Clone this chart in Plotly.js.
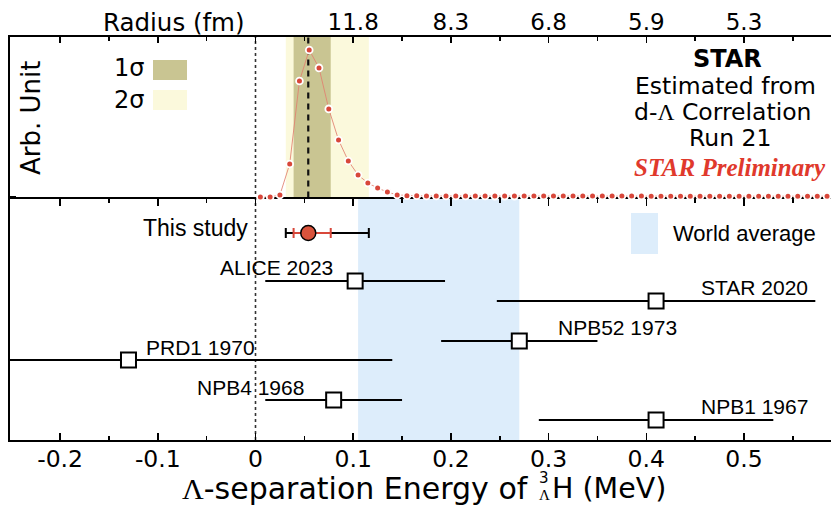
<!DOCTYPE html>
<html>
<head>
<meta charset="utf-8">
<script src="https://cdn.plot.ly/plotly-3.0.1.min.js"></script>
<style>
  html, body { margin: 0; padding: 0; background: #fff; }
  #chart { width: 831px; height: 506px; }
</style>
</head>
<body>
<div id="chart"></div>
<script>
// ---------------------------------------------------------------------------
// Λ-separation energy of the hypertriton: d-Λ correlation estimate (top)
// and comparison with earlier measurements (bottom). Energies in MeV.
// ---------------------------------------------------------------------------

// Top panel: likelihood profile vs. B_Λ (arbitrary units, peak = 1)
const profileE = [0.005, 0.015, 0.025, 0.035, 0.045, 0.055, 0.065, 0.075, 0.085, 0.095,
                  0.105, 0.115, 0.125, 0.135, 0.145, 0.155, 0.165, 0.175, 0.185, 0.195,
                  0.205, 0.215, 0.225, 0.235, 0.245, 0.255, 0.265, 0.275, 0.285, 0.295,
                  0.305, 0.315, 0.325, 0.335, 0.345, 0.355, 0.365, 0.375, 0.385, 0.395,
                  0.405, 0.415, 0.425, 0.435, 0.445, 0.455, 0.465, 0.475, 0.485, 0.495,
                  0.505, 0.515, 0.525, 0.535, 0.545, 0.555, 0.565, 0.575, 0.585];
const profileP = [0.000, 0.000, 0.014, 0.224, 0.789, 1.000, 0.878, 0.599, 0.388, 0.245,
                  0.150, 0.095, 0.061, 0.034, 0.014, 0.009, 0.008, 0.007, 0.007, 0.007,
                  0.007, 0.007, 0.007, 0.007, 0.006, 0.006, 0.006, 0.006, 0.006, 0.006,
                  0.006, 0.006, 0.006, 0.006, 0.006, 0.006, 0.006, 0.006, 0.006, 0.006,
                  0.005, 0.005, 0.005, 0.005, 0.005, 0.005, 0.005, 0.005, 0.005, 0.005,
                  0.005, 0.005, 0.005, 0.005, 0.005, 0.005, 0.005, 0.005, 0.005];

// Secondary (top) axis: source radius corresponding to B_Λ
const radiusTickE    = [0.1, 0.2, 0.3, 0.4, 0.5];
const radiusTickText = ["11.8", "8.3", "6.8", "5.9", "5.3"];

// This measurement: central value, statistical and total uncertainty
const studyValue     = 0.054;
const studyStatLow   = 0.015;
const studyStatHigh  = 0.023;
const studyTotalLow  = 0.023;
const studyTotalHigh = 0.062;

// Earlier measurements
const priorNames  = ["ALICE 2023", "STAR 2020", "NPB52 1973", "PRD1 1970", "NPB4 1968", "NPB1 1967"];
const priorValues = [0.102, 0.41, 0.27, -0.13, 0.08, 0.41];
const priorErrors = [0.092, 0.163, 0.08, 0.27, 0.07, 0.12];

// World average interval
const worldAvgLow  = 0.105;
const worldAvgHigh = 0.270;

// Energy axis tick labels
const energyTicks      = [-0.2, -0.1, 0, 0.1, 0.2, 0.3, 0.4, 0.5];
const energyTickText   = ["-0.2", "-0.1", "0", "0.1", "0.2", "0.3", "0.4", "0.5"];
const energyMinorTicks = [-0.15, -0.05, 0.05, 0.15, 0.25, 0.35, 0.45, 0.55];

// ---------------------------------------------------------------------------
// Presentation
// ---------------------------------------------------------------------------
const W = 831, H = 506;
const M = { l: 10, r: 0, t: 37, b: 66 };
const plotW = W - M.l - M.r, plotH = H - M.t - M.b;
const splitPx = 199;                       // boundary between the panels
const splitFrac = (H - M.b - splitPx) / plotH;

// pixel -> paper coordinates for free text and decorations
const px = v => (v - M.l) / plotW;
const py = v => (H - M.b - v) / plotH;

// vertical rows of the comparison panel (bottom = 0)
const studyRow = 10.35;
const priorRows = [7.95, 6.95, 4.95, 4.0, 2.0, 1.0];

const RED = "#d8473a";
const SANS = "Liberation Sans, Arial, sans-serif";
const WIDE = "DejaVu Sans, sans-serif";
const SERIF = "Liberation Serif, Times New Roman, serif";

const traces = [
  // profile
  {
    x: profileE, y: profileP, xaxis: "x2", yaxis: "y2",
    type: "scatter", mode: "lines+markers", hoverinfo: "skip",
    line: { color: "rgba(226,128,112,0.85)", width: 1 },
    marker: { color: RED, size: 6.8, line: { color: "#fff", width: 1.8 } },
    cliponaxis: false
  },
  // earlier measurements: error bars, then the markers over them
  {
    x: priorValues, y: priorRows, type: "scatter", mode: "markers", hoverinfo: "skip",
    marker: { opacity: 0, size: 2 },
    error_x: { type: "data", array: priorErrors, visible: true, color: "#000", thickness: 2, width: 0 }
  },
  {
    x: priorValues, y: priorRows, type: "scatter", mode: "markers", hoverinfo: "skip",
    marker: { symbol: "square", size: 15, color: "#fff", line: { color: "#000", width: 2 } }
  },
  // this study: total, statistical, central value
  {
    x: [studyValue], y: [studyRow], type: "scatter", mode: "markers", hoverinfo: "skip",
    marker: { opacity: 0, size: 2 },
    error_x: { type: "data", symmetric: false, array: [studyTotalHigh], arrayminus: [studyTotalLow],
               visible: true, color: "#000", thickness: 2, width: 5 }
  },
  {
    x: [studyValue], y: [studyRow], type: "scatter", mode: "markers", hoverinfo: "skip",
    marker: { opacity: 0, size: 2 },
    error_x: { type: "data", symmetric: false, array: [studyStatHigh], arrayminus: [studyStatLow],
               visible: true, color: RED, thickness: 2, width: 5 }
  },
  {
    x: [studyValue], y: [studyRow], type: "scatter", mode: "markers", hoverinfo: "skip",
    marker: { symbol: "circle", size: 15, color: "#d9533c", line: { color: "#000", width: 1.5 } }
  }
];

const bandPad = { line: { width: 0 }, layer: "below", type: "rect" };
const shapes = [
  // world average band
  Object.assign({ xref: "x", yref: "y domain", x0: worldAvgLow, x1: worldAvgHigh, y0: 0, y1: 1,
                  fillcolor: "#ddedfb" }, bandPad),
  // 2σ and 1σ bands
  Object.assign({ xref: "x2", yref: "y2 domain", x0: studyValue - studyTotalLow, x1: studyValue + studyTotalHigh,
                  y0: 0, y1: 1, fillcolor: "#fbf9dc" }, bandPad),
  Object.assign({ xref: "x2", yref: "y2 domain", x0: studyValue - studyStatLow, x1: studyValue + studyStatHigh,
                  y0: 0, y1: 1, fillcolor: "#c9c592" }, bandPad),
  // central value
  { type: "line", xref: "x2", yref: "y2 domain", x0: studyValue, x1: studyValue, y0: 0.01, y1: 1,
    line: { color: "#111", width: 2.2, dash: "6px,5px" }, layer: "below" },
  // zero line through both panels
  { type: "line", xref: "x", yref: "paper", x0: 0, x1: 0, y0: 0, y1: 1,
    line: { color: "#333", width: 1.6, dash: "3px,3px" }, layer: "below" },
  // legend swatches
  Object.assign({ xref: "paper", yref: "paper", x0: px(153), x1: px(187), y0: py(80), y1: py(60),
                  fillcolor: "#c9c592" }, bandPad),
  Object.assign({ xref: "paper", yref: "paper", x0: px(153), x1: px(187), y0: py(110), y1: py(90),
                  fillcolor: "#fbf9dc" }, bandPad),
  Object.assign({ xref: "paper", yref: "paper", x0: px(631), x1: px(658), y0: py(254), y1: py(213),
                  fillcolor: "#ddedfb" }, bandPad)
];

function note(text, x, y, opts) {
  return Object.assign({
    text: text, xref: "paper", yref: "paper", x: px(x), y: py(y),
    xanchor: "center", yanchor: "middle", showarrow: false,
    font: { family: SANS, size: 21, color: "#000" }
  }, opts || {});
}
const lam = '<span style="font-family:Liberation Serif">Λ</span>';

const annotations = [
  // top panel text
  note("Radius (fm)", 174, 23, { font: { family: WIDE, size: 24.5, color: "#000" } }),
  note("Arb. Unit", 31, 118, { textangle: -90, font: { family: WIDE, size: 26, color: "#000" } }),
  note("1σ", 146, 68, { xanchor: "right", font: { family: WIDE, size: 24, color: "#000" } }),
  note("2σ", 146, 100, { xanchor: "right", font: { family: WIDE, size: 24, color: "#000" } }),
  note("<b>STAR</b>", 727, 59, { font: { family: WIDE, size: 24, color: "#000" } }),
  note("Estimated from", 725, 86, { font: { family: WIDE, size: 23.5, color: "#000" } }),
  note("d-" + lam + " Correlation", 723, 112, { font: { family: WIDE, size: 23.5, color: "#000" } }),
  note("Run 21", 730, 138, { font: { family: WIDE, size: 23.5, color: "#000" } }),
  note("STAR Preliminary", 730, 168, { font: { family: SERIF, size: 25, color: "#e0392c",
                                                weight: "bold", style: "italic" } }),
  // bottom panel labels
  note("This study", 250, 228, { xanchor: "right", font: { family: SANS, size: 23, color: "#000" } }),
  note(priorNames[0], 276, 267),
  note(priorNames[1], 810, 287, { xanchor: "right" }),
  note(priorNames[2], 556, 327, { xanchor: "left" }),
  note(priorNames[3], 144, 347, { xanchor: "left" }),
  note(priorNames[4], 195, 387, { xanchor: "left" }),
  note(priorNames[5], 810, 406, { xanchor: "right" }),
  note("World average", 671, 233, { xanchor: "left", font: { family: SANS, size: 22, color: "#000" } }),
  // energy axis title (with stacked isotope indices)
  note(lam + "-separation Energy of", 531, 488, { xanchor: "right", font: { family: WIDE, size: 30, color: "#000" } }),
  note("3", 544, 478, { font: { family: WIDE, size: 15, color: "#000" } }),
  note(lam, 544, 495, { font: { family: WIDE, size: 15, color: "#000" } }),
  note("H (MeV)", 550, 488, { xanchor: "left", font: { family: WIDE, size: 28.5, color: "#000" } })
];

const xRange = [(M.l - 255.5) / 977, (W - M.r - 255.5) / 977];

const layout = {
  width: W, height: H, margin: M,
  paper_bgcolor: "#fff", plot_bgcolor: "rgba(0,0,0,0)",
  showlegend: false,
  xaxis: {
    domain: [0, 1], anchor: "y", range: xRange, fixedrange: true,
    showgrid: false, zeroline: false,
    showline: true, linecolor: "#000", linewidth: 2, mirror: "ticks",
    tickmode: "array", tickvals: energyTicks, ticktext: energyTickText,
    ticks: "inside", ticklen: 7, tickwidth: 1.5, tickcolor: "#000",
    minor: { tickmode: "array", tickvals: energyMinorTicks, ticks: "inside", ticklen: 4,
             tickwidth: 1.5, tickcolor: "#000", showgrid: false },
    tickfont: { family: WIDE, size: 23.5, color: "#000" },
    ticklabelstandoff: -3
  },
  yaxis: {
    domain: [0, splitFrac], anchor: "x", range: [0, 12.05], fixedrange: true,
    showgrid: false, zeroline: false, showticklabels: false, ticks: "",
    showline: true, linecolor: "#000", linewidth: 2
  },
  xaxis2: {
    domain: [0, 1], anchor: "y2", side: "top", matches: "x", range: xRange, fixedrange: true,
    showgrid: false, zeroline: false,
    showline: true, linecolor: "#000", linewidth: 2,
    tickmode: "array", tickvals: energyTicks,
    ticktext: energyTicks.map(v => {
      const i = radiusTickE.indexOf(v);
      return i >= 0 ? radiusTickText[i] : "";
    }),
    ticks: "inside", ticklen: 6, tickwidth: 1.5, tickcolor: "#000",
    minor: { tickmode: "array", tickvals: energyMinorTicks, ticks: "inside", ticklen: 4,
             tickwidth: 1.5, tickcolor: "#000", showgrid: false },
    tickfont: { family: WIDE, size: 23, color: "#000" },
    ticklabelstandoff: -4
  },
  yaxis2: {
    domain: [splitFrac, 1], anchor: "x2", range: [-0.0136, 1.088], fixedrange: true,
    showgrid: false, zeroline: false, showticklabels: false,
    tickmode: "array", tickvals: [0], ticks: "inside", ticklen: 6, tickwidth: 1.5, tickcolor: "#000",
    showline: true, linecolor: "#000", linewidth: 2
  },
  shapes: shapes,
  annotations: annotations
};

Plotly.newPlot("chart", traces, layout, { staticPlot: true, displayModeBar: false });
</script>
</body>
</html>
